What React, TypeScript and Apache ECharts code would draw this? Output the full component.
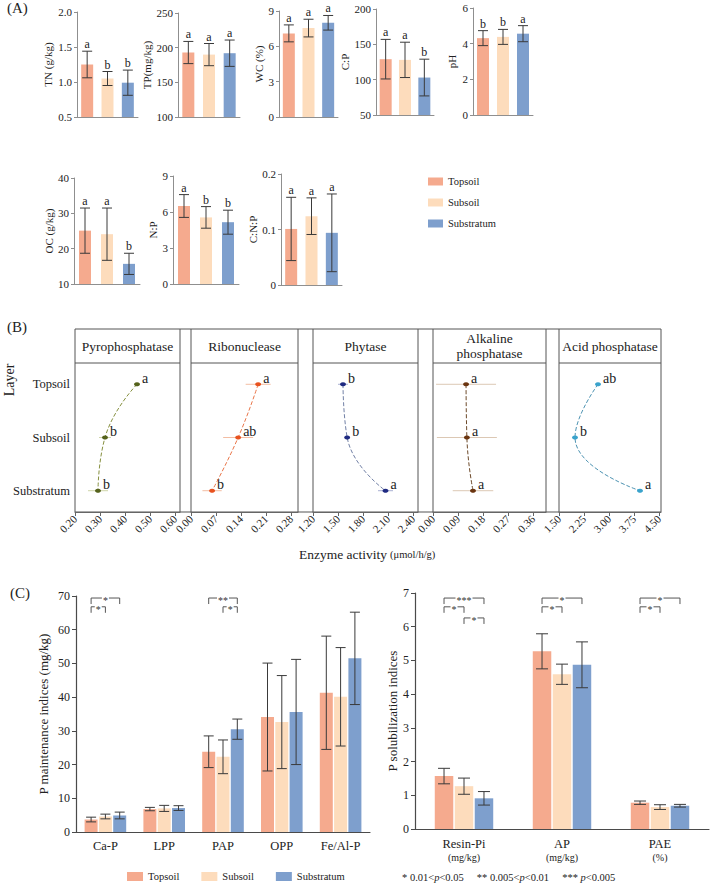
import React, { useEffect, useRef } from 'react';
import * as echarts from 'echarts';

const FONT = '"Liberation Serif", "Times New Roman", serif';

// ---------- shared ----------
const layers = ['Topsoil', 'Subsoil', 'Substratum'];
const layerColors = ['#F5AA8E', '#FDDCBC', '#7E9FCD'];

// ---------- Panel A ----------
const aNames = ['TN (g/kg)', 'TP(mg/kg)', 'WC (%)', 'C:P', 'pH', 'OC (g/kg)', 'N:P', 'C:N:P'];
const tnMean = [1.25, 1.05, 0.99];
const tnErr = [0.19, 0.1, 0.18];
const tnLetters = ['a', 'b', 'b'];
const tpMean = [193, 190, 192];
const tpErr = [16, 16, 19];
const tpLetters = ['a', 'a', 'a'];
const wcMean = [7.1, 7.55, 8.0];
const wcErr = [0.72, 0.75, 0.62];
const wcLetters = ['a', 'a', 'a'];
const cpMean = [129, 128, 103];
const cpErr = [28, 25, 26];
const cpLetters = ['a', 'a', 'b'];
const phMean = [4.31, 4.38, 4.56];
const phErr = [0.42, 0.42, 0.45];
const phLetters = ['b', 'b', 'a'];
const ocMean = [25.1, 24.1, 15.7];
const ocErr = [6.4, 7.4, 3.0];
const ocLetters = ['a', 'a', 'b'];
const npMean = [6.5, 5.55, 5.15];
const npErr = [0.95, 0.9, 1.0];
const npLetters = ['a', 'b', 'b'];
const cnpMean = [0.101, 0.124, 0.094];
const cnpErr = [0.057, 0.033, 0.07];
const cnpLetters = ['a', 'a', 'a'];

// ---------- Panel B ----------
const enzymes = ['Pyrophosphatase', 'Ribonuclease', 'Phytase', 'Alkaline\nphosphatase', 'Acid phosphatase'];
const pyroMean = [0.448, 0.32, 0.292];
const pyroErr = [0.006, 0.024, 0.04];
const pyroLetters = ['a', 'b', 'b'];
const pyroTicks = [0.2, 0.3, 0.4, 0.5, 0.6];
const riboMean = [0.188, 0.132, 0.059];
const riboErr = [0.035, 0.042, 0.027];
const riboLetters = ['a', 'ab', 'b'];
const riboTicks = [0, 0.07, 0.14, 0.21, 0.28];
const phyMean = [1.56, 1.61, 2.07];
const phyErr = [0.06, 0.03, 0.09];
const phyLetters = ['b', 'b', 'a'];
const phyTicks = [1.2, 1.5, 1.8, 2.1, 2.4];
const alkMean = [0.119, 0.122, 0.144];
const alkErr = [0.108, 0.108, 0.073];
const alkLetters = ['a', 'a', 'a'];
const alkTicks = [0, 0.09, 0.18, 0.27, 0.36];
const acidMean = [2.67, 1.98, 3.93];
const acidErr = [0.05, 0.05, 0.06];
const acidLetters = ['ab', 'b', 'a'];
const acidTicks = [1.5, 2.25, 3.0, 3.75, 4.5];

// ---------- Panel C ----------
const maintCats = ['Ca-P', 'LPP', 'PAP', 'OPP', 'Fe/Al-P'];
const maintTop = [3.7, 6.8, 23.8, 34.1, 41.3];
const maintSub = [4.6, 7.0, 22.3, 32.6, 40.1];
const maintStr = [4.9, 7.1, 30.5, 35.6, 51.5];
const maintTopErr = [0.7, 0.5, 4.7, 16.0, 16.8];
const maintSubErr = [0.7, 0.9, 5.0, 13.8, 14.6];
const maintStrErr = [1.0, 0.7, 3.0, 15.6, 13.7];
const solCats = ['Resin-Pi', 'AP', 'PAE'];
const solUnits = ['(mg/kg)', '(mg/kg)', '(%)'];
const solTop = [1.57, 5.27, 0.78];
const solSub = [1.27, 4.59, 0.65];
const solStr = [0.91, 4.87, 0.69];
const solTopErr = [0.23, 0.52, 0.05];
const solSubErr = [0.24, 0.3, 0.07];
const solStrErr = [0.2, 0.68, 0.04];
// [category, from layer, to layer, level, stars]
const maintSig: any[] = [
  [0, 0, 2, 69.4, '*'],
  [0, 0, 1, 66.8, '*'],
  [2, 0, 2, 69.4, '**'],
  [2, 1, 2, 66.8, '*'],
];
const solSig: any[] = [
  [0, 0, 2, 6.85, '***'],
  [0, 0, 1, 6.59, '*'],
  [0, 1, 2, 6.26, '*'],
  [1, 0, 2, 6.85, '*'],
  [1, 0, 1, 6.59, '*'],
  [2, 0, 2, 6.85, '*'],
  [2, 0, 1, 6.59, '*'],
];

// ---------- layout (positions only) ----------
const aLayout = [
  { left: 77, top: 12, width: 61, height: 105, min: 0.5, max: 2.0, interval: 0.5, nameGap: 24, dec: 1 },
  { left: 178, top: 13, width: 62, height: 104, min: 100, max: 250, interval: 50, nameGap: 20 },
  { left: 279, top: 11, width: 59, height: 106, min: 0, max: 9, interval: 3, nameGap: 12 },
  { left: 376, top: 9, width: 58, height: 106, min: 50, max: 200, interval: 50, nameGap: 16 },
  { left: 473, top: 8, width: 60, height: 107, min: 0, max: 6, interval: 2, nameGap: 16 },
  { left: 74, top: 178, width: 66, height: 106, min: 10, max: 40, interval: 10, nameGap: 17 },
  { left: 173, top: 176, width: 66, height: 108, min: 0, max: 9, interval: 3, nameGap: 10 },
  { left: 281, top: 174, width: 61, height: 111, min: 0, max: 0.2, interval: 0.1, nameGap: 16 },
];
const aMeans = [tnMean, tpMean, wcMean, cpMean, phMean, ocMean, npMean, cnpMean];
const aErrs = [tnErr, tpErr, wcErr, cpErr, phErr, ocErr, npErr, cnpErr];
const aLetters = [tnLetters, tpLetters, wcLetters, cpLetters, phLetters, ocLetters, npLetters, cnpLetters];

const bTop = 363;
const bHeight = 149;
const bFrameTop = 329;
const bLayout = [
  { left: 75, width: 105, min: 0.2, max: 0.62, dot: '#55621c', line: '#86903f', bar: '#cfd5a9' },
  { left: 191, width: 107, min: 0, max: 0.2996, dot: '#e8521f', line: '#e9764a', bar: '#f3bda3' },
  { left: 313, width: 105, min: 1.2, max: 2.46, dot: '#202b82', line: '#7281a6', bar: '#a9afd2' },
  { left: 433, width: 113, min: 0, max: 0.4068, dot: '#6b3510', line: '#6d4a2a', bar: '#dcc8b4' },
  { left: 559, width: 102, min: 1.5, max: 4.56, dot: '#3aa3cc', line: '#4d93b2', bar: '#a8d4e6' },
];
const bMeans = [pyroMean, riboMean, phyMean, alkMean, acidMean];
const bErrs = [pyroErr, riboErr, phyErr, alkErr, acidErr];
const bLetters = [pyroLetters, riboLetters, phyLetters, alkLetters, acidLetters];
const bTicks = [pyroTicks, riboTicks, phyTicks, alkTicks, acidTicks];

function txt(style: any) {
  const s: any = { fontFamily: FONT, fill: '#222', ...style };
  if (s.align) s.textAlign = s.align;
  if (s.verticalAlign) s.textVerticalAlign = s.verticalAlign;
  return s;
}

function errSeries(gi: number, means: number[], errs: number[], offset: number, cap: number, letters?: string[]) {
  return {
    type: 'custom',
    xAxisIndex: gi,
    yAxisIndex: gi,
    silent: true,
    z: 5,
    data: means.map((m, i) => [i, m, errs[i]]),
    renderItem: (params: any, api: any) => {
      const i = api.value(0);
      const m = api.value(1);
      const e = api.value(2);
      const t = api.coord([i, m + e]);
      const b = api.coord([i, m - e]);
      const x = t[0] + offset;
      const st = { stroke: '#3a3a3a', lineWidth: 1 };
      const children: any[] = [
        { type: 'line', shape: { x1: x, y1: t[1], x2: x, y2: b[1] }, style: st },
        { type: 'line', shape: { x1: x - cap, y1: t[1], x2: x + cap, y2: t[1] }, style: st },
        { type: 'line', shape: { x1: x - cap, y1: b[1], x2: x + cap, y2: b[1] }, style: st },
      ];
      if (letters) {
        children.push({
          type: 'text',
          x,
          y: t[1] - 1,
          style: txt({ text: letters[params.dataIndex], fontSize: 12, align: 'center', verticalAlign: 'bottom' }),
        });
      }
      return { type: 'group', children };
    },
  };
}

function hErrSeries(gi: number, means: number[], errs: number[], letters: string[], color: string) {
  return {
    type: 'custom',
    xAxisIndex: gi,
    yAxisIndex: gi,
    silent: true,
    z: 2,
    data: means.map((m, i) => [m, i, errs[i]]),
    renderItem: (params: any, api: any) => {
      const m = api.value(0);
      const r = api.value(1);
      const e = api.value(2);
      const p = api.coord([m, r]);
      const lo = api.coord([m - e, r]);
      const hi = api.coord([m + e, r]);
      return {
        type: 'group',
        children: [
          { type: 'line', shape: { x1: lo[0], y1: p[1], x2: hi[0], y2: p[1] }, style: { stroke: color, lineWidth: 1 } },
          {
            type: 'text',
            x: p[0] + 5,
            y: p[1] - 6,
            z2: 10,
            style: txt({ text: letters[params.dataIndex], fontSize: 14, align: 'left', verticalAlign: 'middle' }),
          },
        ],
      };
    },
  };
}

function bracketSeries(gi: number, sig: any[], step: number, drop: number) {
  return {
    type: 'custom',
    xAxisIndex: gi,
    yAxisIndex: gi,
    silent: true,
    z: 6,
    data: sig.map((s) => [s[0], s[3]]),
    renderItem: (params: any, api: any) => {
      const s = sig[params.dataIndex];
      const c = api.coord([api.value(0), api.value(1)]);
      const x1 = c[0] + (s[1] - 1) * step;
      const x2 = c[0] + (s[2] - 1) * step;
      const y = c[1];
      return {
        type: 'group',
        children: [
          {
            type: 'polyline',
            shape: { points: [[x1, y + drop], [x1, y], [x2, y], [x2, y + drop]] },
            style: { stroke: '#555', fill: 'none', lineWidth: 1 },
          },
          {
            type: 'text',
            x: (x1 + x2) / 2,
            y: y + 2.5,
            z2: 10,
            style: txt({
              text: s[4],
              fontSize: 10,
              fill: '#333',
              align: 'center',
              verticalAlign: 'middle',
              backgroundColor: '#fff',
              padding: [0, 1],
            }),
          },
        ],
      };
    },
  };
}

function buildOption() {
  const grid: any[] = [];
  const xAxis: any[] = [];
  const yAxis: any[] = [];
  const series: any[] = [];
  const graphic: any[] = [];
  const aGray = '#8f8f8f';

  // ---- Panel A ----
  aLayout.forEach((p: any, k) => {
    const gi = grid.length;
    grid.push({ left: p.left, top: p.top, width: p.width, height: p.height });
    xAxis.push({
      gridIndex: gi,
      type: 'category',
      data: layers,
      axisLine: { onZero: false, lineStyle: { color: aGray } },
      axisTick: { show: false },
      axisLabel: { show: false },
    });
    yAxis.push({
      gridIndex: gi,
      type: 'value',
      min: p.min,
      max: p.max,
      interval: p.interval,
      name: aNames[k],
      nameLocation: 'middle',
      nameGap: p.nameGap,
      nameTextStyle: { fontSize: 11, color: '#222', fontFamily: FONT },
      axisLine: { show: true, onZero: false, lineStyle: { color: aGray } },
      axisTick: { show: true, length: 3, lineStyle: { color: aGray } },
      splitLine: { show: false },
      axisLabel: {
        fontSize: 11,
        color: '#222',
        margin: 5,
        fontFamily: FONT,
        formatter: (v: number) => (p.dec ? v.toFixed(p.dec) : String(v)),
      },
    });
    series.push({
      type: 'bar',
      name: aNames[k],
      xAxisIndex: gi,
      yAxisIndex: gi,
      barWidth: 12,
      silent: true,
      data: aMeans[k].map((m, i) => ({ value: m, itemStyle: { color: layerColors[i] } })),
    });
    series.push(errSeries(gi, aMeans[k], aErrs[k], 0, 5, aLetters[k]));
  });

  // ---- Panel B ----
  bLayout.forEach((p, k) => {
    const gi = grid.length;
    grid.push({ left: p.left, top: bTop, width: p.width, height: bHeight });
    xAxis.push({
      gridIndex: gi,
      type: 'value',
      min: p.min,
      max: p.max,
      axisLine: { show: true, onZero: false, lineStyle: { color: '#666' } },
      axisTick: { show: true, length: 4, customValues: bTicks[k], lineStyle: { color: '#666' } },
      axisLabel: {
        customValues: bTicks[k],
        rotate: 45,
        fontSize: 11,
        color: '#222',
        margin: 5,
        fontFamily: FONT,
        formatter: (v: number) => v.toFixed(2),
      },
      splitLine: { show: false },
    });
    yAxis.push({
      gridIndex: gi,
      type: 'value',
      inverse: true,
      min: -0.4,
      max: 2.4,
      axisLine: { show: false, onZero: false },
      axisTick: { show: false },
      splitLine: { show: false },
      axisLabel:
        k === 0
          ? {
              show: true,
              customValues: [0, 1, 2],
              fontSize: 12.5,
              color: '#222',
              margin: 5,
              fontFamily: FONT,
              formatter: (v: number) => layers[Math.round(v)],
            }
          : { show: false },
    });
    series.push({
      type: 'line',
      xAxisIndex: gi,
      yAxisIndex: gi,
      silent: true,
      smooth: 0.5,
      symbol: 'circle',
      symbolSize: [6, 4],
      z: 4,
      itemStyle: { color: p.dot },
      lineStyle: { type: 'dashed', color: p.line, width: 1 },
      data: bMeans[k].map((m, i) => [m, i]),
    });
    series.push(hErrSeries(gi, bMeans[k], bErrs[k], bLetters[k], p.bar));

    // header
    graphic.push({
      type: 'line',
      shape: { x1: p.left, y1: bTop, x2: p.left + p.width, y2: bTop },
      style: { stroke: '#555', lineWidth: 1 },
    });
    graphic.push({
      type: 'text',
      x: p.left + p.width / 2,
      y: (bFrameTop + bTop) / 2,
      style: txt({ text: enzymes[k], fontSize: 13.5, lineHeight: 15, align: 'center', verticalAlign: 'middle' }),
    });
    if (k > 0) {
      const prev = bLayout[k - 1];
      [prev.left + prev.width, p.left].forEach((x) =>
        graphic.push({
          type: 'line',
          shape: { x1: x, y1: bFrameTop, x2: x, y2: bTop + bHeight },
          style: { stroke: '#555', lineWidth: 1 },
        })
      );
    }
  });
  const bl = bLayout[bLayout.length - 1];
  graphic.push({
    type: 'rect',
    shape: { x: bLayout[0].left, y: bFrameTop, width: bl.left + bl.width - bLayout[0].left, height: bTop + bHeight - bFrameTop },
    style: { stroke: '#555', fill: 'none', lineWidth: 1 },
  });
  graphic.push({
    type: 'text',
    x: 9,
    y: 380,
    rotation: Math.PI / 2,
    style: txt({ text: 'Layer', fontSize: 14, align: 'center', verticalAlign: 'middle' }),
  });
  graphic.push({
    type: 'text',
    x: 299,
    y: 554,
    style: txt({
      text: '{a|Enzyme activity} {b|(μmol/h/g)}',
      align: 'left',
      verticalAlign: 'middle',
      rich: {
        a: { fontSize: 13.5, fontFamily: FONT, fill: '#222' },
        b: { fontSize: 10.5, fontFamily: FONT, fill: '#222' },
      },
    }),
  });

  // ---- Panel C ----
  const cGray = '#4a4a4a';
  const cPanels = [
    {
      left: 76, top: 596, width: 294, height: 236, max: 70, interval: 10,
      name: 'P maintenance indices (mg/kg)', nameGap: 26, cats: maintCats,
      vals: [maintTop, maintSub, maintStr], errs: [maintTopErr, maintSubErr, maintStrErr],
      barWidth: 13, gap: 0.1, cap: 5, sig: maintSig,
    },
    {
      left: 415, top: 593, width: 294, height: 236, max: 7, interval: 1,
      name: 'P solubilization indices', nameGap: 15, cats: solCats,
      vals: [solTop, solSub, solStr], errs: [solTopErr, solSubErr, solStrErr],
      barWidth: 18.5, gap: 0.08, cap: 6, sig: solSig,
    },
  ];
  cPanels.forEach((p, k) => {
    const gi = grid.length;
    grid.push({ left: p.left, top: p.top, width: p.width, height: p.height });
    xAxis.push({
      gridIndex: gi,
      type: 'category',
      data: p.cats,
      axisLine: { onZero: false, lineStyle: { color: cGray, width: 1.2 } },
      axisTick: { show: false },
      axisLabel:
        k === 0
          ? { fontSize: 12.5, color: '#222', margin: 7, fontFamily: FONT }
          : {
              margin: 7,
              formatter: (v: string, i: number) => `{a|${v}}\n{b|${solUnits[i]}}`,
              rich: {
                a: { fontSize: 12.5, color: '#222', fontFamily: FONT, lineHeight: 15 },
                b: { fontSize: 10, color: '#222', fontFamily: FONT, lineHeight: 13 },
              },
            },
    });
    yAxis.push({
      gridIndex: gi,
      type: 'value',
      min: 0,
      max: p.max,
      interval: p.interval,
      name: p.name,
      nameLocation: 'middle',
      nameGap: p.nameGap,
      nameTextStyle: { fontSize: 13, color: '#222', fontFamily: FONT },
      axisLine: { show: true, onZero: false, lineStyle: { color: cGray, width: 1.2 } },
      axisTick: { show: true, length: 4, lineStyle: { color: cGray } },
      splitLine: { show: false },
      axisLabel: { fontSize: 12, color: '#222', margin: 6, fontFamily: FONT },
    });
    const step = p.barWidth * (1 + p.gap);
    layers.forEach((name, li) => {
      series.push({
        type: 'bar',
        name,
        xAxisIndex: gi,
        yAxisIndex: gi,
        barWidth: p.barWidth,
        barGap: `${p.gap * 100}%`,
        silent: true,
        itemStyle: { color: layerColors[li] },
        data: p.vals[li],
      });
    });
    layers.forEach((_, li) => {
      series.push(errSeries(gi, p.vals[li], p.errs[li], (li - 1) * step, p.cap));
    });
    series.push(bracketSeries(gi, p.sig, step, 6));
  });

  // panel labels
  [['(A)', 7, 8], ['(B)', 7, 327], ['(C)', 10, 593]].forEach(([t, x, y]) =>
    graphic.push({
      type: 'text',
      x,
      y,
      style: txt({ text: t, fontSize: 15, align: 'left', verticalAlign: 'middle' }),
    })
  );
  // footnote
  graphic.push({
    type: 'text',
    x: 402,
    y: 877,
    style: txt({
      text: '{n|* 0.01<}{i|p}{n|<0.05     ** 0.005<}{i|p}{n|<0.01     *** }{i|p}{n|<0.005}',
      align: 'left',
      verticalAlign: 'middle',
      rich: {
        n: { fontSize: 10.5, fontFamily: FONT, fill: '#222' },
        i: { fontSize: 10.5, fontFamily: FONT, fontStyle: 'italic', fill: '#222' },
      },
    }),
  });

  return {
    animation: false,
    backgroundColor: '#fff',
    textStyle: { fontFamily: FONT },
    legend: [
      {
        orient: 'vertical',
        left: 423,
        top: 170,
        itemWidth: 15,
        itemHeight: 8,
        itemGap: 8,
        icon: 'rect',
        selectedMode: false,
        data: layers,
        textStyle: { fontSize: 10.5, color: '#222', fontFamily: FONT, lineHeight: 13 },
      },
      {
        orient: 'horizontal',
        left: 125,
        top: 868,
        padding: 2,
        itemWidth: 16,
        itemHeight: 9,
        itemGap: 22,
        icon: 'rect',
        selectedMode: false,
        data: layers,
        textStyle: { fontSize: 10.5, color: '#222', fontFamily: FONT, lineHeight: 13 },
      },
    ],
    grid,
    xAxis,
    yAxis,
    series,
    graphic,
  };
}

export default function App() {
  const ref = useRef<HTMLDivElement>(null);
  useEffect(() => {
    if (!ref.current) return;
    const chart = echarts.init(ref.current, null, { renderer: 'svg' });
    chart.setOption(buildOption() as any);
    return () => chart.dispose();
  }, []);
  return (
    <div
      ref={ref}
      style={{ position: 'absolute', left: 0, top: 0, width: 710, height: 885, background: '#fff' }}
    />
  );
}
